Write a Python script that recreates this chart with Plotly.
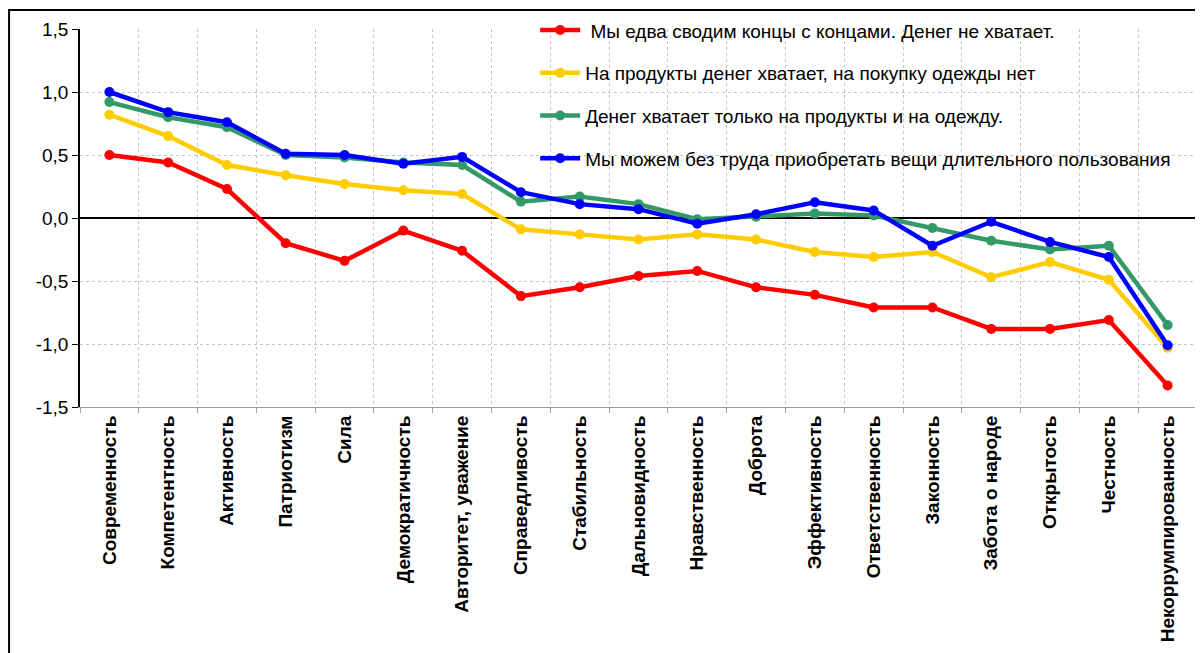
import plotly.graph_objects as go

categories = ["Современность", "Компетентность", "Активность", "Патриотизм", "Сила",
              "Демократичность", "Авторитет, уважение", "Справедливость", "Стабильность",
              "Дальновидность", "Нравственность", "Доброта", "Эффективность",
              "Ответственность", "Законность", "Забота о народе", "Открытость",
              "Честность", "Некоррумпированность"]

series_names = [" Мы едва сводим концы с концами. Денег не хватает.",
                "На продукты денег хватает, на покупку одежды нет",
                "Денег хватает только на продукты и на одежду.",
                "Мы можем без труда приобретать вещи длительного пользования"]

red_vals = [0.50, 0.44, 0.23, -0.20, -0.34, -0.10, -0.26, -0.62, -0.55, -0.46,
            -0.42, -0.55, -0.61, -0.71, -0.71, -0.88, -0.88, -0.81, -1.33]
yellow_vals = [0.82, 0.65, 0.42, 0.34, 0.27, 0.22, 0.19, -0.09, -0.13, -0.17,
               -0.13, -0.17, -0.27, -0.31, -0.27, -0.47, -0.35, -0.49, -1.03]
green_vals = [0.92, 0.80, 0.72, 0.50, 0.48, 0.44, 0.42, 0.13, 0.17, 0.11,
              -0.01, 0.01, 0.035, 0.02, -0.08, -0.18, -0.25, -0.22, -0.85]
blue_vals = [1.00, 0.84, 0.76, 0.51, 0.50, 0.43, 0.485, 0.205, 0.11, 0.07,
             -0.045, 0.03, 0.125, 0.06, -0.22, -0.03, -0.19, -0.31, -1.01]

colors = ["#FF0000", "#FFCC00", "#339966", "#0000FF"]

y_tickvals = [-1.5, -1.0, -0.5, 0.0, 0.5, 1.0, 1.5]
y_ticktext = ["-1,5", "-1,0", "-0,5", "0,0", "0,5", "1,0", "1,5"]

FONT = "Liberation Sans, Arial, sans-serif"

fig = go.Figure()
for name, vals, col in zip(series_names, [red_vals, yellow_vals, green_vals, blue_vals], colors):
    fig.add_trace(go.Scatter(
        x=categories, y=vals, name=name, mode="lines+markers",
        line=dict(color=col, width=4.5), marker=dict(color=col, size=10),
        legendgroup=name,
    ))

# the page body has an 8px margin, so the figure is sized to fit inside the window
fig.update_layout(
    width=1195, height=645,
    paper_bgcolor="white", plot_bgcolor="white",
    margin=dict(l=72, r=5.5, t=21, b=246, autoexpand=False),
    font=dict(family=FONT, color="black"),
    showlegend=True,
    legend=dict(
        x=0.4075, y=1.047, xanchor="left", yanchor="top",
        bgcolor="rgba(0,0,0,0)", borderwidth=0,
        font=dict(size=19, family=FONT),
        tracegroupgap=15, itemwidth=40,
    ),
)

fig.update_xaxes(
    type="category", tickson="boundaries",
    tickangle=-90, tickfont=dict(size=19, family=FONT, weight="bold"),
    showgrid=True, gridcolor="#c4c4c4", griddash="dot", gridwidth=1,
    showline=True, linecolor="#a0a0a0", linewidth=1,
    ticks="outside", ticklen=5, tickcolor="#a0a0a0",
    range=[-0.5, len(categories) - 0.5],
)
fig.update_yaxes(
    range=[-1.5, 1.5], tickvals=y_tickvals, ticktext=y_ticktext,
    tickfont=dict(size=19),
    showgrid=True, gridcolor="#c4c4c4", griddash="dot", gridwidth=1,
    zeroline=True, zerolinecolor="black", zerolinewidth=1.5,
    showline=True, linecolor="black", linewidth=1.5,
    ticks="outside", ticklen=6, tickcolor="black",
)

# white legend area hiding the gridlines behind the legend
fig.add_shape(type="rect", xref="paper", yref="paper",
              x0=0.4075, x1=1.0, y0=0.6, y1=1.0,
              line=dict(width=0), fillcolor="white", layer="between")
# right edge of plot area (below the legend area)
fig.add_shape(type="line", xref="paper", yref="paper", x0=1, x1=1, y0=0, y1=0.6,
              line=dict(color="#a0a0a0", width=1))
# outer chart border
fig.add_shape(type="rect", xref="paper", yref="paper",
              x0=-0.0635, x1=1.03, y0=-0.75, y1=1.0503,
              line=dict(color="black", width=2), fillcolor="rgba(0,0,0,0)", layer="above")

fig.write_html("out.html")
